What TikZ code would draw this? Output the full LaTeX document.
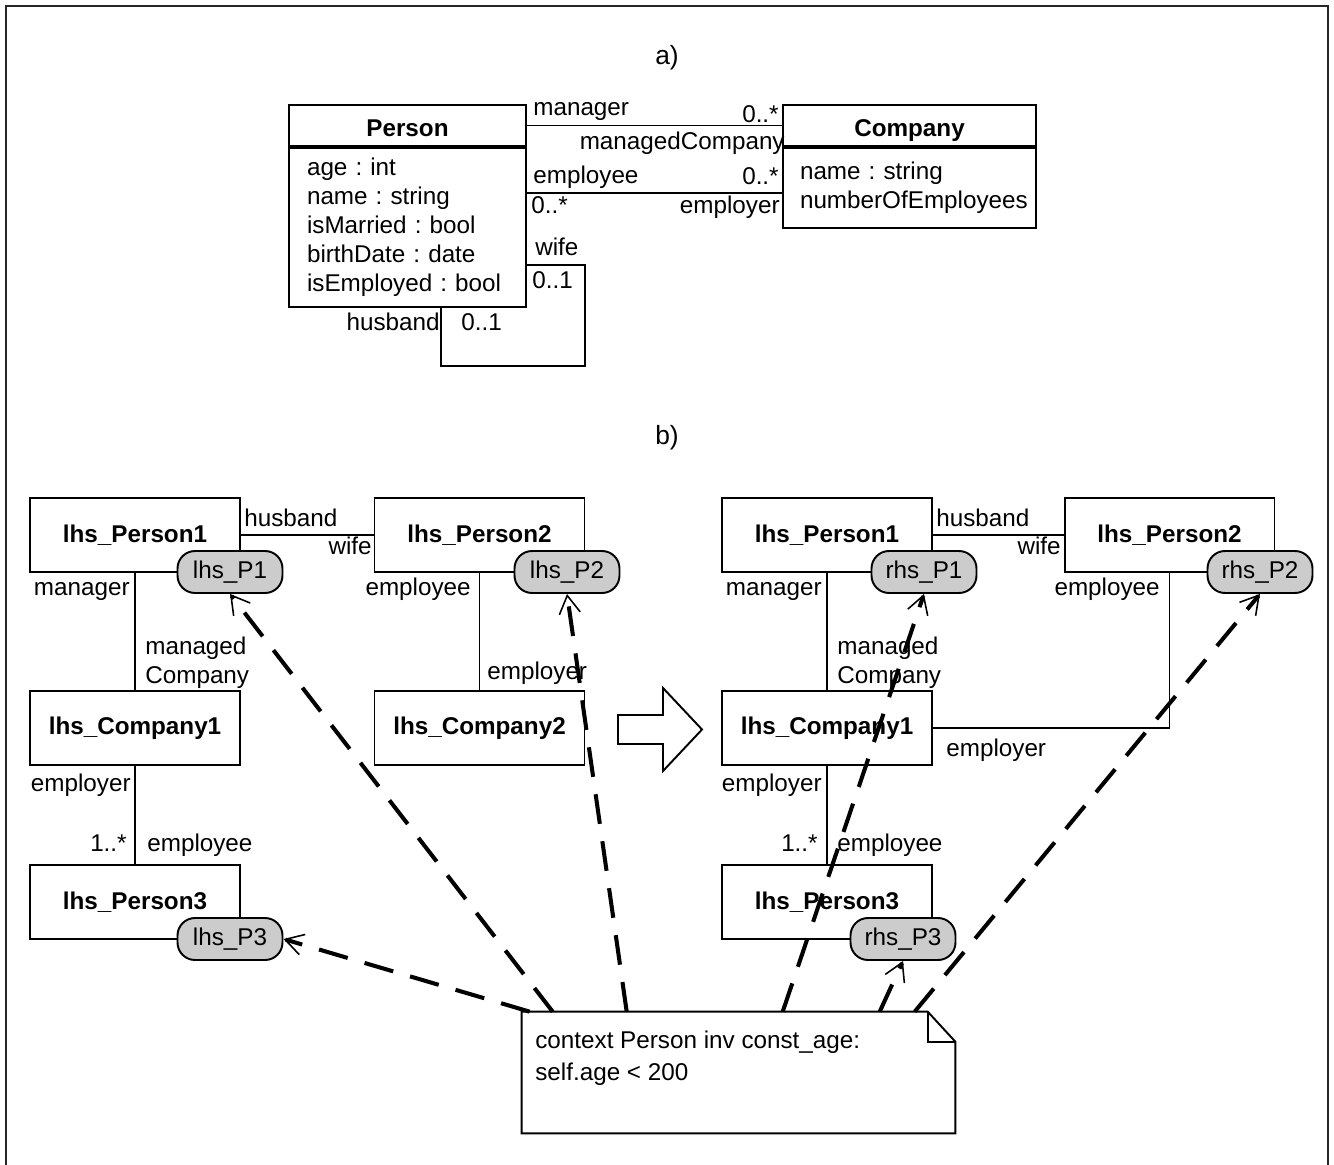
\documentclass[tikz,border=0pt]{standalone}
\usepackage{fontspec}
\setmainfont{Liberation Sans}
\usetikzlibrary{calc,arrows.meta}

\newcommand{\dfont}{\fontsize{13.8}{16.5}\selectfont\frenchspacing}

\tikzset{
  cls/.style={draw, line width=1.1pt, minimum width=4.2cm, minimum height=1.48cm, font=\dfont\bfseries},
  head/.style={draw, line width=1.1pt, minimum height=0.82cm, inner ysep=0pt, text height=1.22em, text depth=0pt, font=\dfont\bfseries},
  attrs/.style={draw, line width=1.1pt, anchor=north, align=left, font=\dfont},
  role/.style={inner sep=0pt, text height=0.72em, text depth=0.21em, font=\dfont},
  twoline/.style={inner sep=0pt, align=left, font=\dfont},
  tag/.style={draw, line width=1.1pt, fill=gray!40, rounded corners=0.35cm, minimum width=2.1cm, minimum height=0.84cm, inner sep=0pt, font=\dfont},
  link/.style={line width=1.1pt},
  ocl/.style={line width=2.3pt, dash pattern=on 17pt off 10pt, -{Straight Barb[length=0.36cm,width=0.42cm,line width=0.9pt]}},
}

\begin{document}
\begin{tikzpicture}[x=0.02cm, y=-0.02cm]

\useasboundingbox (0,0) rectangle (1334,1165);

% frame
\draw[line width=1.1pt, black!85] (6,1165) -- (6,6) -- (1328,6) -- (1328,1165);

\node[role, font=\fontsize{15}{18}\selectfont] (capA) at (667,60) {a)};
\node[role, font=\fontsize{15}{18}\selectfont] (capB) at (667,440) {b)};

% ---- a) class diagram
\node[head, minimum width=4.74cm] (personHead) at (407.5,125.5) {Person};
\node[attrs, minimum width=4.74cm, minimum height=3.18cm, text width=4.02cm, inner xsep=0.36cm] (personBody) at (personHead.south)
  {age : int\\name : string\\isMarried : bool\\birthDate : date\\isEmployed : bool};

\node[head, minimum width=5.06cm] (companyHead) at (909.5,125.5) {Company};
\node[attrs, minimum width=5.06cm, minimum height=1.6cm, text width=4.38cm, inner xsep=0.34cm] (companyBody) at (companyHead.south)
  {name : string\\numberOfEmployees};

\draw[link] (personHead.east) -- (companyHead.west);
\coordinate (empA) at ($(personBody.north east)+(0,46)$);
\draw[link] (empA) -- (empA -| companyBody.west);

\coordinate (wifeEnd) at ($(personBody.north east)+(0,118)$);
\coordinate (husbEnd) at ($(personBody.south west)+(153,0)$);
\draw[link] (wifeEnd) -- ++(58,0) -- ++(0,101) -| (husbEnd);

\node[role, anchor=west] (aMan) at (533,111) {manager};
\node[role, anchor=east] (aManM) at (779,118) {0..*};
\node[role, anchor=east] (aMC) at (785,145) {managedCompany};
\node[role, anchor=west] (aEmp) at (533,179) {employee};
\node[role, anchor=east] (aEmpM) at (779,180) {0..*};
\node[role, anchor=west] (aErM) at (531,209) {0..*};
\node[role, anchor=east] (aEr) at (780,209) {employer};
\node[role, anchor=west] (aWife) at (535,251) {wife};
\node[role, anchor=west] (aWifeM) at (532,284) {0..1};
\node[role, anchor=east] (aHusb) at (440,326) {husband};
\node[role, anchor=west] (aHusbM) at (461,326) {0..1};

% ---- b) left hand side
\node[cls] (lP1) at (135,535) {lhs\_Person1};
\node[cls] (lP2) at (479.5,535) {lhs\_Person2};
\node[cls] (lC1) at (135,728) {lhs\_Company1};
\node[cls] (lC2) at (479.5,728) {lhs\_Company2};
\node[cls] (lP3) at (135,902) {lhs\_Person3};

\draw[link] (lP1.east) -- (lP2.west);
\draw[link] (lP1.south) -- (lC1.north);
\draw[link] (lP2.south) -- (lC2.north);
\draw[link] (lC1.south) -- (lP3.north);

\node[tag] (lT1) at (230,572) {lhs\_P1};
\node[tag] (lT2) at (567,572) {lhs\_P2};
\node[tag] (lT3) at (230,939) {lhs\_P3};

\node[role, anchor=west] (lHusb) at (244,522) {husband};
\node[role, anchor=east] (lWife) at (372,550) {wife};
\node[role, anchor=east] (lMan) at (130,591) {manager};
\node[twoline, anchor=west] (lMC) at (145,663) {managed\\Company};
\node[role, anchor=east] (lEmp) at (471,591) {employee};
\node[role, anchor=west] (lEr) at (487,675) {employer};
\node[role, anchor=east] (lEr1) at (131,787) {employer};
\node[role, anchor=east] (lMult) at (127,847) {1..*};
\node[role, anchor=west] (lEmp1) at (147,847) {employee};

% transformation arrow
\draw[link] (618,715) -- (663,715) -- (663,688) -- (702,729.5) -- (663,771) -- (663,744) -- (618,744) -- cycle;

% ---- b) right hand side
\node[cls] (rP1) at (827,535) {lhs\_Person1};
\node[cls] (rP2) at (1169.5,535) {lhs\_Person2};
\node[cls] (rC1) at (827,728) {lhs\_Company1};
\node[cls] (rP3) at (827,902) {lhs\_Person3};

\draw[link] (rP1.east) -- (rP2.west);
\draw[link] (rP1.south) -- (rC1.north);
\draw[link] (rP2.south) |- (rC1.east);
\draw[link] (rC1.south) -- (rP3.north);

\node[tag] (rT1) at (924,572) {rhs\_P1};
\node[tag] (rT2) at (1260,572) {rhs\_P2};
\node[tag] (rT3) at (903,939) {rhs\_P3};

\node[role, anchor=west] (rHusb) at (936,522) {husband};
\node[role, anchor=east] (rWife) at (1061,550) {wife};
\node[role, anchor=east] (rMan) at (822,591) {manager};
\node[twoline, anchor=west] (rMC) at (837,663) {managed\\Company};
\node[role, anchor=east] (rEmp) at (1160,591) {employee};
\node[role, anchor=west] (rEr) at (946,752) {employer};
\node[role, anchor=east] (rEr1) at (822,787) {employer};
\node[role, anchor=east] (rMult) at (818,847) {1..*};
\node[role, anchor=west] (rEmp1) at (837,847) {employee};

% ---- OCL note
\node[minimum width=8.66cm, minimum height=2.42cm, inner sep=0pt] (note) at (738.5,1072.5) {};
\draw[link, fill=white] (note.north west) -- ++(406,0) -- ($(note.north east)+(0,30)$) -- (note.south east) -- (note.south west) -- cycle;
\draw[link] ($(note.north east)+(-27,0)$) |- ($(note.north east)+(0,30)$);
\node[anchor=west, align=left, font=\dfont, inner sep=0pt] (oclText) at (535,1058)
  {context Person inv const\_age:\\[0.06cm]self.age < 200};

\draw[ocl] ($(note.north west)+(8,0)$) -- (lT3.east);
\draw[ocl] ($(note.north west)+(31,0)$) -- (lT1.south);
\draw[ocl] ($(note.north west)+(105,0)$) -- (lT2.south);
\draw[ocl] ($(note.north west)+(261,0)$) -- (rT1.south);
\draw[ocl] ($(note.north west)+(358,0)$) -- (rT3.south);
\draw[ocl] ($(note.north west)+(393,0)$) -- (rT2.south);

\end{tikzpicture}
\end{document}
